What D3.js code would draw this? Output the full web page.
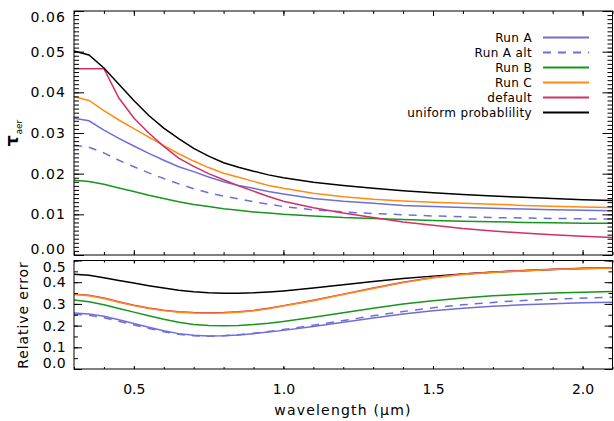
<!DOCTYPE html>
<html>
<head>
<meta charset="utf-8">
<script src="https://cdn.jsdelivr.net/npm/d3@7"></script>
<style>
  body { margin: 0; background: #fff; }
  svg { display: block; }
  text { font-family: "DejaVu Sans", sans-serif; fill: #000; }
</style>
</head>
<body>
<svg id="chart" width="614" height="421"></svg>
<script>
// Wavelength grid (µm)
const wavelength = [0.30, 0.35, 0.40, 0.45, 0.50, 0.55, 0.60, 0.65, 0.70, 0.75, 0.80, 0.85, 0.90, 0.95, 1.00,
                    1.10, 1.20, 1.30, 1.40, 1.50, 1.60, 1.70, 1.80, 1.90, 2.00, 2.10];

// Aerosol optical depth per retrieval
const tauRunA    = [0.0336, 0.0330, 0.0307, 0.0287, 0.0268, 0.0250, 0.0233, 0.0217, 0.0205, 0.0192, 0.0180, 0.0171, 0.0164, 0.0156, 0.0150,
                    0.0139, 0.0132, 0.0127, 0.0122, 0.0119, 0.0117, 0.0115, 0.0113, 0.0111, 0.0110, 0.0109];
const tauRunAalt = [0.0270, 0.0265, 0.0251, 0.0233, 0.0217, 0.0202, 0.0188, 0.0175, 0.0163, 0.0153, 0.0145, 0.0138, 0.0131, 0.0125, 0.0119,
                    0.0111, 0.0106, 0.0102, 0.0099, 0.0096, 0.0094, 0.0092, 0.0091, 0.0090, 0.0089, 0.0088];
const tauRunB    = [0.0184, 0.0181, 0.0174, 0.0165, 0.0156, 0.0147, 0.0139, 0.0131, 0.0124, 0.0119, 0.0114, 0.0110, 0.0106, 0.0103, 0.0100,
                    0.0096, 0.0092, 0.0090, 0.0087, 0.0085, 0.0083, 0.0082, 0.0080, 0.0079, 0.0078, 0.0078];
const tauRunC    = [0.0389, 0.0380, 0.0355, 0.0332, 0.0311, 0.0290, 0.0269, 0.0249, 0.0231, 0.0215, 0.0201, 0.0191, 0.0181, 0.0171, 0.0164,
                    0.0152, 0.0143, 0.0137, 0.0133, 0.0130, 0.0127, 0.0125, 0.0122, 0.0120, 0.0118, 0.0117];
const tauDefault = [0.0458, 0.0458, 0.0458, 0.0386, 0.0337, 0.0300, 0.0267, 0.0238, 0.0218, 0.0200, 0.0185, 0.0170, 0.0157, 0.0144, 0.0132,
                    0.0116, 0.0103, 0.0092, 0.0081, 0.0073, 0.0065, 0.0059, 0.0054, 0.0050, 0.0046, 0.0043];
const tauUniform = [0.0502, 0.0492, 0.0460, 0.0420, 0.0380, 0.0343, 0.0312, 0.0286, 0.0262, 0.0243, 0.0227, 0.0216, 0.0206, 0.0197, 0.0190,
                    0.0179, 0.0171, 0.0164, 0.0158, 0.0153, 0.0149, 0.0145, 0.0142, 0.0139, 0.0136, 0.0134];

// Relative error of the optical depth
const relRunA    = [0.258, 0.254, 0.243, 0.227, 0.210, 0.192, 0.176, 0.163, 0.155, 0.152, 0.153, 0.157, 0.163, 0.170, 0.178,
                    0.196, 0.215, 0.235, 0.253, 0.268, 0.280, 0.289, 0.296, 0.301, 0.305, 0.308];
const relRunAalt = [0.252, 0.248, 0.236, 0.220, 0.203, 0.187, 0.172, 0.160, 0.153, 0.151, 0.153, 0.158, 0.165, 0.173, 0.182,
                    0.202, 0.223, 0.245, 0.265, 0.282, 0.296, 0.307, 0.316, 0.322, 0.327, 0.331];
const relRunB    = [0.318, 0.310, 0.296, 0.279, 0.262, 0.245, 0.229, 0.215, 0.205, 0.200, 0.199, 0.201, 0.205, 0.211, 0.219,
                    0.238, 0.259, 0.280, 0.299, 0.315, 0.327, 0.337, 0.344, 0.350, 0.354, 0.357];
const relRunC    = [0.343, 0.338, 0.325, 0.308, 0.292, 0.279, 0.269, 0.262, 0.258, 0.257, 0.258, 0.262, 0.268, 0.278, 0.290,
                    0.315, 0.343, 0.371, 0.398, 0.420, 0.436, 0.445, 0.452, 0.458, 0.462, 0.465];
const relDefault = [0.345, 0.340, 0.327, 0.310, 0.294, 0.281, 0.271, 0.264, 0.260, 0.259, 0.260, 0.264, 0.270, 0.280, 0.292,
                    0.317, 0.345, 0.373, 0.400, 0.422, 0.438, 0.447, 0.454, 0.460, 0.464, 0.467];
const relUniform = [0.437, 0.432, 0.420, 0.408, 0.396, 0.384, 0.373, 0.363, 0.356, 0.351, 0.349, 0.349, 0.351, 0.355, 0.360,
                    0.373, 0.388, 0.403, 0.417, 0.428, 0.438, 0.446, 0.453, 0.459, 0.463, 0.466];

const seriesNames  = ["Run A", "Run A alt", "Run B", "Run C", "default", "uniform probablility"];
const seriesColors = ["#6e6ed8", "#6e6ed8", "#17951c", "#ff8c10", "#d42e68", "#000000"];
const seriesDashed = [false, true, false, false, false, false];

const xTickMajor = [0.5, 1.0, 1.5, 2.0];
const yTopTickMajor = [0.00, 0.01, 0.02, 0.03, 0.04, 0.05, 0.06];
const yBotTickMajor = [0.0, 0.1, 0.2, 0.3, 0.4, 0.5];

const tauSeries = [tauRunA, tauRunAalt, tauRunB, tauRunC, tauDefault, tauUniform];
const relSeries = [relRunA, relRunAalt, relRunB, relRunC, relDefault, relUniform];

// ---------- layout ----------
const svg = d3.select("#chart");
const L = 74, R = 612.5;
const topY0 = 11, topY1 = 255;
const botY0 = 260.5, botY1 = 369;

const x = d3.scaleLinear().domain([0.3, 2.1]).range([L, R]);
const yTop = d3.scaleLinear().domain([0, 0.06]).range([topY1, topY0]);
const yBot = d3.scaleLinear().domain([0, 0.5]).range([botY1, botY0]);

const xMinor = d3.range(3, 22).map(d => d / 10);
const yTopMinor = d3.range(0, 61).map(d => d / 1000);
const yBotMinor = d3.range(0, 11).map(d => d / 20);

// clip regions for the two panels
const defs = svg.append("defs");
defs.append("clipPath").attr("id", "clipTop").append("rect")
  .attr("x", L).attr("y", topY0).attr("width", R - L).attr("height", topY1 - topY0);
defs.append("clipPath").attr("id", "clipBot").append("rect")
  .attr("x", L).attr("y", botY0).attr("width", R - L).attr("height", botY1 - botY0);

function drawAxes(y, y0, y1, majorY, minorY, yMajLen, yMinLen, xMajLen, xMinLen, fmtY, labelX, yLetter, edgeShift) {
  const g = svg.append("g");
  // left y axis: minor then major, ticks pointing inward
  g.append("g").attr("transform", `translate(${L},0)`)
    .call(d3.axisLeft(y).tickValues(minorY).tickSize(-yMinLen).tickSizeOuter(0).tickFormat(""));
  const yl = g.append("g").attr("class", "ylab").attr("transform", `translate(${L},0)`)
    .call(d3.axisLeft(y).tickValues(majorY).tickSize(-yMajLen).tickSizeOuter(0).tickPadding(8).tickFormat(d3.format(fmtY)));
  // keep the end labels inside the panel's height
  const lo = majorY[0], hi = majorY[majorY.length - 1];
  yl.selectAll(".tick text").attr("dy", d => d === hi ? `${0.32 + edgeShift}em` : d === lo ? `${0.32 - edgeShift}em` : "0.32em");
  // right y axis
  g.append("g").attr("transform", `translate(${R},0)`)
    .call(d3.axisRight(y).tickValues(minorY).tickSize(-yMinLen).tickSizeOuter(0).tickFormat(""));
  g.append("g").attr("transform", `translate(${R},0)`)
    .call(d3.axisRight(y).tickValues(majorY).tickSize(-yMajLen).tickSizeOuter(0).tickFormat(""));
  // bottom x axis
  g.append("g").attr("transform", `translate(0,${y1})`)
    .call(d3.axisBottom(x).tickValues(xMinor).tickSize(-xMinLen).tickSizeOuter(0).tickFormat(""));
  g.append("g").attr("class", "xlab").attr("transform", `translate(0,${y1})`)
    .call(d3.axisBottom(x).tickValues(xTickMajor).tickSize(-xMajLen).tickSizeOuter(0).tickPadding(15)
      .tickFormat(labelX ? d3.format(".1f") : ""));
  // top x axis
  g.append("g").attr("transform", `translate(0,${y0})`)
    .call(d3.axisTop(x).tickValues(xMinor).tickSize(-xMinLen).tickSizeOuter(0).tickFormat(""));
  g.append("g").attr("transform", `translate(0,${y0})`)
    .call(d3.axisTop(x).tickValues(xTickMajor).tickSize(-xMajLen).tickSizeOuter(0).tickFormat(""));
  g.selectAll(".domain").remove();
  g.selectAll(".tick line").attr("stroke", "#000").attr("stroke-width", 1);
  g.selectAll("text").attr("font-size", 14).attr("font-family", "DejaVu Sans, sans-serif").attr("fill", "#000");
  g.selectAll(".ylab text").attr("letter-spacing", yLetter);
  // frame
  g.append("rect").attr("x", L).attr("y", y0).attr("width", R - L).attr("height", y1 - y0)
    .attr("fill", "none").attr("stroke", "#000").attr("stroke-width", 1);
}

function drawLines(y, data, clip, order) {
  const line = d3.line().x((d, i) => x(wavelength[i])).y(d => y(d));
  const g = svg.append("g").attr("clip-path", `url(#${clip})`);
  order.forEach(k => {
    g.append("path").datum(data[k])
      .attr("d", line)
      .attr("fill", "none")
      .attr("stroke", seriesColors[k])
      .attr("stroke-width", 1.5)
      .attr("stroke-dasharray", seriesDashed[k] ? "8,7" : null);
  });
}

// upper panel: optical depth
drawLines(yTop, tauSeries, "clipTop", [0, 1, 2, 3, 4, 5]);
drawAxes(yTop, topY0, topY1, yTopTickMajor, yTopMinor, 10, 5, 5, 3, ".2f", false, 1.1, 0.42);

// lower panel: relative error
drawLines(yBot, relSeries, "clipBot", [5, 4, 0, 1, 2, 3]);
drawAxes(yBot, botY0, botY1, yBotTickMajor, yBotMinor, 8, 4, 3, 2, ".1f", true, 0.3, 0.43);

// legend
const legend = svg.append("g");
seriesNames.forEach((name, i) => {
  const yy = 37.5 + i * 15;
  legend.append("text").attr("x", 532).attr("y", yy).attr("dy", "0.35em")
    .attr("text-anchor", "end").attr("font-size", 12).attr("letter-spacing", 0.35).text(name);
  legend.append("line").attr("x1", 543).attr("x2", 589).attr("y1", yy).attr("y2", yy)
    .attr("stroke", seriesColors[i]).attr("stroke-width", 1.8)
    .attr("stroke-dasharray", seriesDashed[i] ? "8,7" : null);
});

// axis titles
const tauTitle = svg.append("text")
  .attr("transform", "translate(18,133) rotate(-90)")
  .attr("text-anchor", "middle");
tauTitle.append("tspan").attr("font-size", 17).attr("font-weight", "bold").text("τ");
tauTitle.append("tspan").attr("font-size", 9).attr("dy", 4).attr("dx", 1).text("aer");

svg.append("text")
  .attr("transform", "translate(23,315) rotate(-90)")
  .attr("text-anchor", "middle").attr("dominant-baseline", "central")
  .attr("font-size", 14).attr("letter-spacing", 0.9).text("Relative error");

svg.append("text")
  .attr("x", 343).attr("y", 410).attr("dominant-baseline", "central")
  .attr("text-anchor", "middle").attr("font-size", 14).attr("letter-spacing", 1.2)
  .text("wavelength (μm)");
</script>
</body>
</html>
